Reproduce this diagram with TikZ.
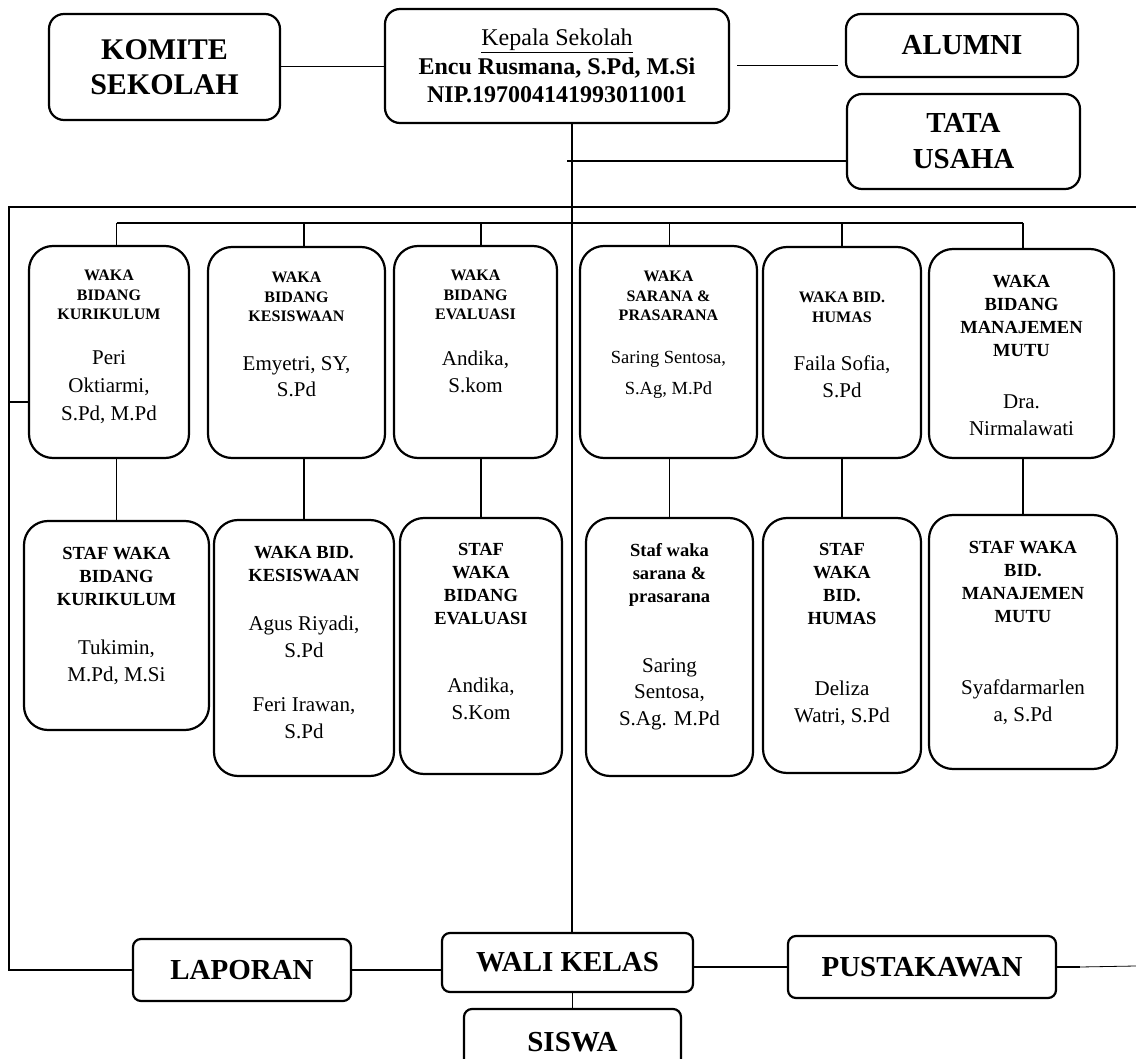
\documentclass[tikz,border=0pt]{standalone}
\usepackage{fontspec}
\setmainfont{Liberation Serif}
\usepackage{tikz}

\begin{document}
\begin{tikzpicture}[x=1pt,y=-1pt]

\tikzset{box/.style = {draw, rounded corners=15pt, line width=2.2pt, inner sep=0pt, align=center}}
\tikzset{low/.style = {draw, rounded corners=8pt, line width=2.2pt, inner sep=0pt, font=\fontsize{29}{36}\selectfont\bfseries}}
\tikzset{big/.style = {font=\fontsize{29}{36}\selectfont\bfseries}}
\tikzset{wbox/.style = {draw, rounded corners=24pt, line width=2.2pt, inner sep=0pt}}
\tikzset{head/.style = {inner sep=0pt, align=center, anchor=north, font=\fontsize{16}{19.5}\selectfont\bfseries}}
\tikzset{head2/.style = {inner sep=0pt, align=center, anchor=north, font=\fontsize{18.5}{23}\selectfont\bfseries}}
\tikzset{person/.style = {inner sep=0pt, align=center, anchor=north, font=\fontsize{21}{26.5}\selectfont}}
\tikzset{edge/.style = {line width=1.6pt}}

\useasboundingbox (0,0) rectangle (1136,1059);

% top
\node[box, font=\fontsize{30}{35}\selectfont\bfseries, minimum width=231pt, minimum height=106pt] (komite) at (164.5,67) {KOMITE\\SEKOLAH};
\node[box, font=\fontsize{24}{28.5}\selectfont, minimum width=344pt, minimum height=114pt] (kepala) at (557,66) {\underline{Kepala Sekolah}\\\textbf{Encu Rusmana, S.Pd, M.Si}\\\textbf{NIP.197004141993011001}};
\node[box, big, minimum width=232pt, minimum height=63pt] (alumni) at (962,45.5) {ALUMNI};
\node[box, big, minimum width=233pt, minimum height=95pt] (tata) at (963.5,141.5) {TATA\\USAHA};

% waka
\node[wbox, minimum width=160pt, minimum height=212pt] (kur) at (109,352) {};
\node[wbox, minimum width=177pt, minimum height=211pt] (kes) at (296.5,352.5) {};
\node[wbox, minimum width=163pt, minimum height=212pt] (eva) at (475.5,352) {};
\node[wbox, minimum width=177pt, minimum height=212pt] (sar) at (668.5,352) {};
\node[wbox, minimum width=158pt, minimum height=211pt] (hum) at (842,352.5) {};
\node[wbox, minimum width=185pt, minimum height=209pt] (mut) at (1021.5,353.5) {};

\node[head] (kur-h) at (109,270) {WAKA\\BIDANG\\KURIKULUM};
\node[person, font=\fontsize{21}{28}\selectfont] (kur-p) at (109,350) {Peri\\Oktiarmi,\\S.Pd, M.Pd};
\node[head] (kes-h) at (296.5,272) {WAKA\\BIDANG\\KESISWAAN};
\node[person] (kes-p) at (296.5,356) {Emyetri, SY,\\S.Pd};
\node[head] (eva-h) at (475.5,270) {WAKA\\BIDANG\\EVALUASI};
\node[person] (eva-p) at (475.5,351) {Andika,\\S.kom};
\node[head] (sar-h) at (668.5,271) {WAKA\\SARANA \&\\PRASARANA};
\node[person, font=\fontsize{18.5}{31}\selectfont] (sar-p) at (668.5,351) {Saring Sentosa,\\S.Ag, M.Pd};
\node[head] (hum-h) at (842,292) {WAKA BID.\\HUMAS};
\node[person] (hum-p) at (842,356) {Faila Sofia,\\S.Pd};
\node[head2] (mut-h) at (1021.5,275) {WAKA\\BIDANG\\MANAJEMEN\\MUTU};
\node[person] (mut-p) at (1021.5,395) {Dra.\\Nirmalawati};

% staf
\node[wbox, minimum width=185pt, minimum height=209pt] (skur) at (116.5,625.5) {};
\node[wbox, minimum width=180pt, minimum height=256pt] (skes) at (304,648) {};
\node[wbox, minimum width=162pt, minimum height=256pt] (seva) at (481,646) {};
\node[wbox, minimum width=167pt, minimum height=258pt] (ssar) at (669.5,647) {};
\node[wbox, minimum width=158pt, minimum height=255pt] (shum) at (842,645.5) {};
\node[wbox, minimum width=188pt, minimum height=254pt] (smut) at (1023,642) {};

\node[head2] (skur-h) at (116.5,547) {STAF WAKA\\BIDANG\\KURIKULUM};
\node[person] (skur-p) at (116.5,640) {Tukimin,\\M.Pd, M.Si};
\node[head2] (skes-h) at (304,546) {WAKA BID.\\KESISWAAN};
\node[person] (skes-p) at (304,616) {Agus Riyadi,\\S.Pd\\[28pt]Feri Irawan,\\S.Pd};
\node[head2] (seva-h) at (481,543) {STAF\\WAKA\\BIDANG\\EVALUASI};
\node[person] (seva-p) at (481,678) {Andika,\\S.Kom};
\node[head2] (ssar-h) at (669.5,543) {Staf waka\\sarana \&\\prasarana};
\node[person] (ssar-p) at (669.5,658) {Saring\\Sentosa,\\S.Ag. M.Pd};
\node[head2] (shum-h) at (842,543) {STAF\\WAKA\\BID.\\HUMAS};
\node[person] (shum-p) at (842,681) {Deliza\\Watri, S.Pd};
\node[head2] (smut-h) at (1023,541) {STAF WAKA\\BID.\\MANAJEMEN\\MUTU};
\node[person] (smut-p) at (1023,680) {Syafdarmarlen\\a, S.Pd};

% bottom
\node[low, minimum width=218pt, minimum height=62pt] (laporan) at (242,970) {LAPORAN};
\node[low, minimum width=251pt, minimum height=59pt] (wali) at (567.5,962.5) {WALI KELAS};
\node[low, minimum width=268pt, minimum height=62pt] (pust) at (922,967) {PUSTAKAWAN};
\node[low, minimum width=217pt, minimum height=66pt] (siswa) at (572.5,1042) {SISWA};

\coordinate (spine) at (572,123);
\coordinate (tu) at (567,161);
\coordinate (corner) at (9,207);
\coordinate (rightend) at (1136,207);
\coordinate (bus) at (0,223);
\coordinate (stub) at (9,402);
\coordinate (pend) at (1136,966);

%edges
\draw[edge, line width=1pt] (komite.east) -- (komite.east -| kepala.west);
\draw[edge, line width=1pt, shorten <=7pt, shorten >=7pt] (kepala.east) -- (kepala.east -| alumni.west);
\draw[edge] (spine) -- (spine |- wali.north);
\draw[edge] (tu) -- (tu -| tata.west);
\draw[edge] (rightend) -- (corner) |- (laporan.west);
\draw[edge] (stub) -- (stub -| kur.west);
\draw[edge] (skur.north |- bus) -- (smut.north |- bus);
\foreach \b/\s in {kur/skur, kes/skes, eva/seva, sar/ssar, hum/shum, mut/smut}{
  \draw[edge] (\s.north |- bus) -- (\s.north |- \b.north);
  \draw[edge] (\s.north |- \b.south) -- (\s.north);
}
\draw[edge] (laporan.east) -- (laporan.east -| wali.west);
\draw[edge] (pust.west -| wali.east) -- (pust.west);
\draw[edge] (siswa.north |- wali.south) -- (siswa.north);
\draw[edge] (pust.east) -- ++(23,0) coordinate (pj);
\draw[line width=0.8pt] (pj) -- (pend);
\end{tikzpicture}
\end{document}
